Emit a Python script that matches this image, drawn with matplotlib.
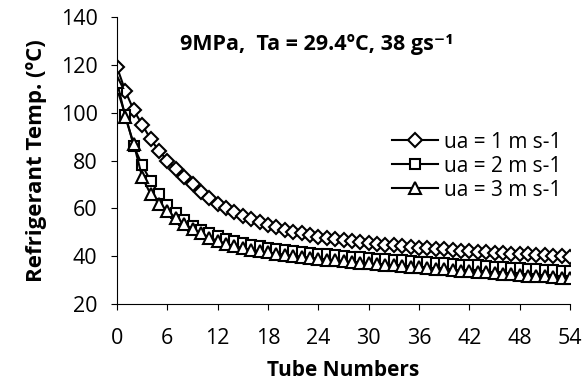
import matplotlib
matplotlib.use("Agg")
import matplotlib.pyplot as plt
import numpy as np

plt.rcParams['font.family'] = ['Open Sans', 'DejaVu Sans']

tubes = list(range(55))

# ua = 1 m/s (diamonds)
t_ua1 = [119, 109, 101, 95, 89, 84, 80, 76.5, 73, 70, 67, 64.5, 62, 60, 58.3,
         56.8, 55.4, 54.2, 53, 52, 51, 50.2, 49.5, 48.8, 48.2, 47.7, 47.2, 46.7,
         46.3, 45.9, 45.5, 45.2, 44.8, 44.5, 44.2, 43.9, 43.6, 43.3, 43.1, 42.8,
         42.6, 42.3, 42.1, 41.9, 41.7, 41.5, 41.3, 41.1, 40.9, 40.7, 40.5, 40.3,
         40.1, 39.9, 39.7]
# ua = 2 m/s (squares)
t_ua2 = [110, 99, 86, 78, 71.5, 66, 61.5, 58, 55, 52.8, 51, 49.5, 48.3, 47.2,
         46.3, 45.5, 44.8, 44.2, 43.6, 43.1, 42.6, 42.2, 41.8, 41.4, 41, 40.7,
         40.4, 40.1, 39.8, 39.5, 39.2, 38.9, 38.7, 38.4, 38.2, 37.9, 37.7, 37.4,
         37.2, 37, 36.7, 36.5, 36.3, 36.1, 35.8, 35.6, 35.4, 35.2, 35, 34.8,
         34.6, 34.4, 34.2, 34, 33.8]
# ua = 3 m/s (triangles)
t_ua3 = [113, 98, 87, 73, 66, 62, 59, 56, 53.5, 51.5, 49.5, 47.8, 46.4, 45.2,
         44.2, 43.4, 42.7, 42.1, 41.6, 41.1, 40.6, 40.2, 39.8, 39.4, 39, 38.6,
         38.3, 37.9, 37.6, 37.3, 37, 36.7, 36.4, 36.1, 35.8, 35.5, 35.3, 35,
         34.7, 34.5, 34.2, 33.9, 33.7, 33.4, 33.2, 32.9, 32.7, 32.4, 32.2, 31.9,
         31.7, 31.5, 31.2, 31, 30.8]

labels = ['ua = 1 m s-1', 'ua = 2 m s-1', 'ua = 3 m s-1']

fig = plt.figure(figsize=(5.85, 3.87), dpi=100)
# plot area: x 117..570 px, y 17..304 px
ax = fig.add_axes([117 / 585, 1 - 304 / 387, 453 / 585, 287 / 387])

style = dict(color='black', lw=1.5, mfc='white', mec='black', mew=1.5)
ax.plot(tubes, t_ua1, marker='D', ms=7, label=labels[0], **style)
ax.plot(tubes, t_ua2, marker='s', ms=7, label=labels[1], **style)
ax.plot(tubes, t_ua3, marker='^', ms=8, label=labels[2], **style)

ax.set_xlim(0, 54)
ax.set_ylim(20, 140)
ax.set_xticks(np.arange(0, 55, 6))
ax.set_yticks(np.arange(20, 141, 20))
ax.spines['top'].set_visible(False)
ax.spines['right'].set_visible(False)
ax.tick_params(direction='out', length=4, labelsize=15.5)
ax.tick_params(axis='x', pad=13)
ax.tick_params(axis='y', pad=10)

ax.set_xlabel('Tube Numbers', fontsize=15, fontweight='bold', labelpad=8)
ax.set_ylabel('Refrigerant Temp. (ºC)', fontsize=16, fontweight='bold',
              labelpad=10)

ax.text(0.44, 0.905, '9MPa,  Ta = 29.4ºC, 38 gs⁻¹', transform=ax.transAxes,
        ha='center', va='center', fontsize=15.5, fontweight='bold')

ax.legend(loc='upper right', bbox_to_anchor=(1.0, 0.63), frameon=False,
          fontsize=15, handlelength=2.2, labelspacing=0.15, handletextpad=0.3,
          borderaxespad=0)

fig.savefig('out.png', dpi=100)
